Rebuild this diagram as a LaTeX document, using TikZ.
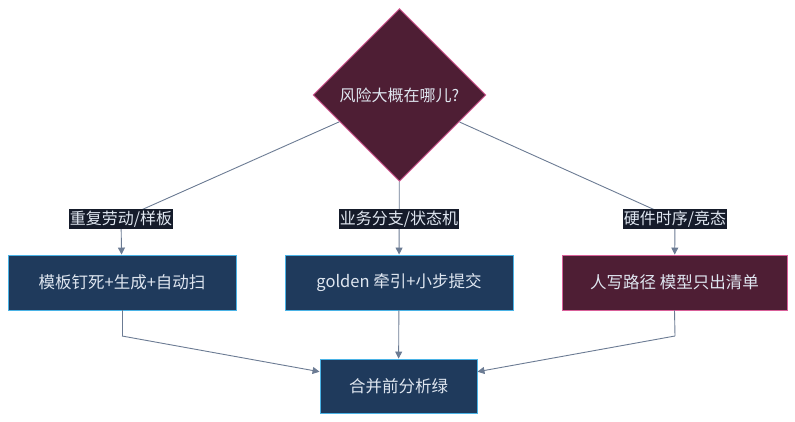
\documentclass[tikz,border=0pt]{standalone}
\usepackage{fontspec}
\setmainfont{Noto Sans CJK SC}
\usetikzlibrary{shapes.geometric,arrows.meta}
\definecolor{dfill}{HTML}{4E1E34}
\definecolor{dborder}{HTML}{D9609A}
\definecolor{bfill}{HTML}{1F3A5C}
\definecolor{bborder}{HTML}{4AB3E6}
\definecolor{lbg}{HTML}{151B2A}
\definecolor{lnc}{HTML}{6B7B93}
\definecolor{txt}{HTML}{DFE6F0}
\begin{document}
\begin{tikzpicture}[x=1pt,y=-1pt,
  conn/.style={draw=lnc,line width=0.9pt},
  arr/.style={conn,-{Triangle[length=7pt,width=7pt]}},
  bluebox/.style={rectangle,draw=bborder,fill=bfill,line width=0.9pt,text=txt,minimum width=228pt,minimum height=55pt,inner sep=0pt,font=\fontsize{16.5}{19}\selectfont},
  pinkbox/.style={bluebox,draw=dborder,fill=dfill},
  elabel/.style={rectangle,fill=lbg,text=txt,inner xsep=1pt,inner ysep=2pt,font=\fontsize{16}{19}\selectfont},
  decision/.style={diamond,aspect=1,draw=dborder,fill=dfill,line width=0.9pt,text=txt,minimum width=173pt,minimum height=173pt,inner sep=0pt,font=\fontsize{16}{19}\selectfont}]
\useasboundingbox (0,0) rectangle (795,422);
\node[decision] (d) at (399.5,95) {风险大概在哪儿?};
\node[bluebox] (b1) at (122,282.5) {模板钉死+生成+自动扫};
\node[bluebox] (b2) at (399,282.5) {golden 牵引+小步提交};
\node[pinkbox,minimum width=225pt] (b3) at (674.5,282.5) {人写路径 模型只出清单};
\node[bluebox,minimum width=157pt,minimum height=54pt] (m) at (398.5,386) {合并前分析绿};
\coordinate (c1) at (121,219);
\coordinate (c2) at (399,219);
\coordinate (c3) at (675,219);
\coordinate (k1) at (122,336);
\coordinate (k3) at (675,336);
\draw[conn] (d) -- (c1);
\draw[arr] (c1) -- (b1);
\draw[arr] (d) -- (b2);
\draw[conn] (d) -- (c3);
\draw[arr] (c3) -- (b3);
\draw[conn] (b1.south) -- (k1);
\draw[arr] (k1) -- (m);
\draw[arr] (b2) -- (m);
\draw[conn] (b3.south) -- (k3);
\draw[arr] (k3) -- (m);
\node[elabel] (l1) at (c1) {重复劳动/样板};
\node[elabel] (l2) at (c2) {业务分支/状态机};
\node[elabel] (l3) at (c3) {硬件时序/竞态};
\end{tikzpicture}
\end{document}
